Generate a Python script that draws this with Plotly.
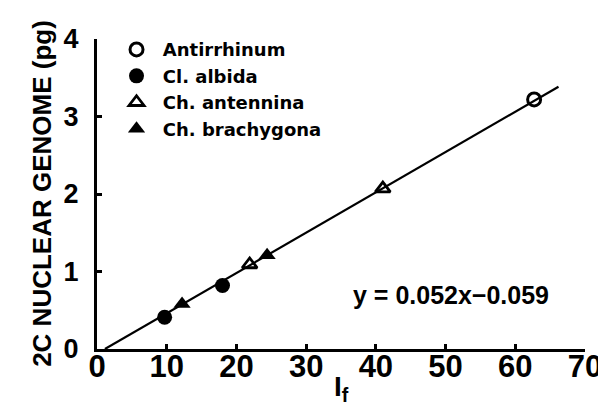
import plotly.graph_objects as go

# Data
antirrhinum_x = [62.7]
antirrhinum_y = [3.22]
albida_x = [9.7, 18.0]
albida_y = [0.41, 0.82]
antennina_x = [21.9, 41.0]
antennina_y = [1.09, 2.07]
brachygona_x = [12.2, 24.4]
brachygona_y = [0.58, 1.21]

slope = 0.052
intercept = -0.059
fit_x_end = 66.2

x_ticks = [0, 10, 20, 30, 40, 50, 60, 70]
y_ticks = [0, 1, 2, 3, 4]

fit_x = [-intercept / slope, fit_x_end]
fit_y = [slope * v + intercept for v in fit_x]

LEG_FONT = dict(family="DejaVu Sans", size=18, color="black", weight="bold")
NB = "\u00a0"

fig = go.Figure()
fig.add_trace(go.Scatter(x=fit_x, y=fit_y, mode="lines",
                         line=dict(color="black", width=2.2), showlegend=False,
                         hoverinfo="skip"))
fig.add_trace(go.Scatter(x=antirrhinum_x, y=antirrhinum_y, mode="markers",
                         name=NB + "Antirrhinum",
                         marker=dict(symbol="circle-open", size=13, color="black",
                                     line=dict(width=3, color="black"))))
fig.add_trace(go.Scatter(x=albida_x, y=albida_y, mode="markers",
                         name=NB + "Cl. albida",
                         marker=dict(symbol="circle", size=15, color="black")))
fig.add_trace(go.Scatter(x=antennina_x, y=antennina_y, mode="markers",
                         name=NB + "Ch. antennina",
                         marker=dict(symbol="triangle-up-open", size=13, color="black",
                                     line=dict(width=2.8, color="black"))))
fig.add_trace(go.Scatter(x=brachygona_x, y=brachygona_y, mode="markers",
                         name=NB + "Ch. brachygona",
                         marker=dict(symbol="triangle-up", size=15, color="black")))

fig.update_layout(
    width=606, height=408,
    margin=dict(l=89, r=20, t=31, b=67),
    paper_bgcolor="white", plot_bgcolor="white",
    font=dict(family="Liberation Sans", color="black"),
    legend=dict(x=0.04, y=1.025, xanchor="left", yanchor="top",
                bgcolor="rgba(0,0,0,0)", font=LEG_FONT, tracegroupgap=0,
                itemsizing="trace"),
    xaxis=dict(range=[0, 70], tickvals=x_ticks, ticktext=[str(v) for v in x_ticks],
               showline=True, linecolor="black", linewidth=2.5,
               ticks="inside", ticklen=5, tickwidth=2.5, tickcolor="black",
               showgrid=False, zeroline=False,
               tickfont=dict(family="Liberation Sans", size=31, color="black", weight="bold"),
               ticklabelstandoff=-12),
    yaxis=dict(range=[0, 4], tickvals=y_ticks, ticktext=[str(v) for v in y_ticks],
               showline=True, linecolor="black", linewidth=3,
               ticks="inside", ticklen=5, tickwidth=2.5, tickcolor="black",
               showgrid=False, zeroline=False,
               tickfont=dict(family="Liberation Sans", size=27, color="black", weight="bold"),
               ticklabelstandoff=10),
)

fig.add_annotation(x=50.75, y=0.70, xref="x", yref="y",
                   text="y = 0.052x\u22120.059", showarrow=False,
                   font=dict(family="Liberation Sans", size=25, color="black", weight="bold"))
fig.add_annotation(x=35.0, y=-0.128, xref="x", yref="paper",
                   text="I<sub>f</sub>", showarrow=False, yanchor="middle",
                   font=dict(family="Liberation Sans", size=28, color="black", weight="bold"))
fig.add_annotation(x=-0.148, y=0.503, xref="paper", yref="paper",
                   text="2C NUCLEAR GENOME (pg)", showarrow=False, textangle=-90,
                   font=dict(family="Liberation Sans", size=26, color="black", weight="bold"))

fig.write_html("out.html")
